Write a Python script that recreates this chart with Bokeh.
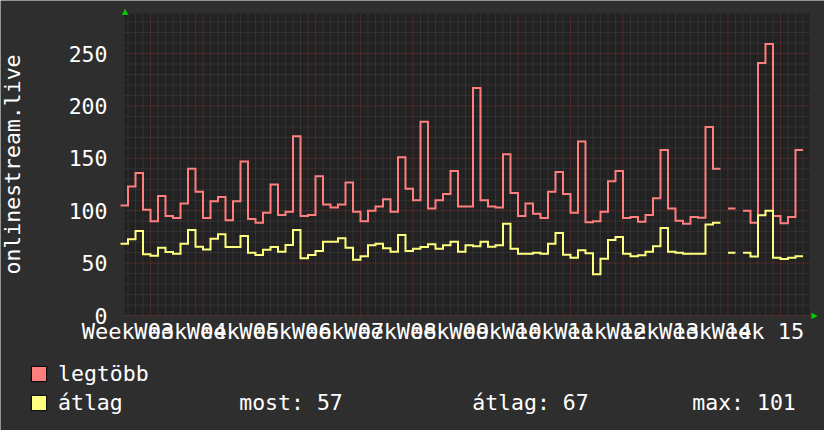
import math
from bokeh.plotting import figure
from bokeh.models import Range1d, Label, Legend, LegendItem
from bokeh.core.properties import value
from bokeh.embed import file_html
from bokeh.resources import INLINE

nan = float("nan")

# ---- data (daily values) ----
legtobb = [105, 123, 136, 101, 90, 114, 95, 93, 107, 140,
           118, 93, 109, 113, 91, 109, 147, 92, 88.5, 98,
           125, 96, 99, 171, 95, 96, 133, 106, 103, 106,
           127, 99, 90, 100, 104, 111, 99, 151, 121, 110,
           185, 102, 110, 116, 138, 104, 104, 217, 110, 104,
           103, 154, 117, 95, 107, 97, 93, 118, 137, 116,
           98, 166, 89, 90, 99, 128, 138, 93, 94, 89.5,
           96, 112, 158, 102, 90.5, 87.6, 94, 93.4, 180, 140,
           nan, 102, nan, 100, 88.6, 241, 259, 95, 88, 94,
           158]
atlag = [68.5, 72.7, 80.6, 58.4, 57, 64.7, 60.6, 59, 68.5, 81.6,
         65.6, 63.1, 73.3, 77.5, 65.4, 65.4, 75.9, 60, 57.7, 62.8,
         65.4, 60.9, 67.3, 81.6, 54.6, 57.7, 61.5, 70.4, 70.4, 73.7,
         64.7, 53.2, 56.5, 67, 68.5, 64.1, 60.9, 76.8, 61.5, 63.7,
         65.4, 67.9, 63.7, 67, 70.4, 60.9, 67, 66, 70.4, 65.7,
         67, 87.6, 63.7, 59, 59, 60, 59, 68.5, 78.7, 58,
         55.2, 62.2, 59.4, 39.3, 54.2, 72, 74.9, 59, 56.5, 57.4,
         60.9, 66, 83.5, 60.9, 60, 59, 59, 59, 86.8, 88.6,
         nan, 60, nan, 60, 56.2, 95.7, 100, 55.2, 53.9, 55,
         56.5]
week_labels = ["Week 03", "Week 04", "Week 05", "Week 06", "Week 07",
               "Week 08", "Week 09", "Week 10", "Week 11", "Week 12",
               "Week 13", "Week 14", "Week 15"]
y_ticks = [0, 50, 100, 150, 200, 250]
y_tick_labels = ["0", "50", "100", "150", "200", "250"]
y_title = "onlinestream.live"
legend_names = ["legtöbb", "átlag"]
stats = ["most: 57", "átlag: 67", "max: 101"]

# ---- style ----
RED = "#ff7f7f"
YEL = "#ffff7f"
BG = "#2e2e2e"
PLOT_BG = "#222222"
MAJOR = "#7a3030"
MINOR = "#434343"
FONT = "DejaVu Sans Mono"
FS = "21.5px"
NB = "\u00a0"
W, H = 824, 430
PL, PR, PT, PB = 124, 15, 13, 115          # plot-area margins in pixels

# plot area in data units (days, visitors)
X0, X1 = -0.467, 90.87
Y0, Y1 = 0, 288.2
pxd = (W - PL - PR) / (X1 - X0)
pyu = (H - PT - PB) / (Y1 - Y0)

n = len(legtobb)
days = list(range(n))          # value i covers day i-1 .. i


def step_path(vals):
    xs, ys = [], []
    for d, v in zip(days, vals):
        xs += [d - 1, d]
        ys += [v, v]
    return xs, ys


p = figure(width=W, height=H, output_backend="svg", toolbar_location=None,
           x_range=Range1d(X0 - PL / pxd, X1 + PR / pxd),
           y_range=Range1d(Y0 - PB / pyu, Y1 + PT / pyu),
           x_axis_location=None, y_axis_location=None, min_border=0)
p.grid.visible = False
p.outline_line_color = None
p.background_fill_color = BG
p.border_fill_color = BG

# plot area
p.quad(left=[X0], right=[X1], bottom=[Y0], top=[Y1],
       fill_color=PLOT_BG, line_color=None)

# grid
week_starts = [7 * k for k in range(len(week_labels))]
major_days = [3 + 7 * k for k in range(13)]
minor_days = [d for d in range(0, 91) if d not in major_days]
minor_vals = [v for v in range(10, 290, 10) if v % 50]
p.segment(x0=minor_days, x1=minor_days, y0=[Y0] * len(minor_days),
          y1=[Y1] * len(minor_days), line_color=MINOR, line_width=1,
          line_dash="1 1")
p.segment(x0=[X0] * len(minor_vals), x1=[X1] * len(minor_vals),
          y0=minor_vals, y1=minor_vals, line_color=MINOR, line_width=1,
          line_dash="1 1")
p.segment(x0=major_days, x1=major_days, y0=[Y0] * len(major_days),
          y1=[Y1] * len(major_days), line_color=MAJOR, line_width=1,
          line_dash="1 1")
p.segment(x0=[X0] * len(y_ticks), x1=[X1] * len(y_ticks),
          y0=y_ticks, y1=y_ticks, line_color=MAJOR, line_width=1,
          line_dash="1 1")

# tick labels
p.text(x=[X0] * len(y_ticks), y=y_ticks, text=y_tick_labels, x_offset=-17,
       text_align="right", text_baseline="middle", text_color="#ffffff",
       text_font=value(FONT), text_font_size=value(FS))
p.text(x=week_starts, y=[Y0] * len(week_starts), text=week_labels, y_offset=3,
       text_align="center", text_baseline="top", text_color="#ffffff",
       text_font=value(FONT), text_font_size=value("22px"))

# series
xr, yr = step_path(legtobb)
xa, ya = step_path(atlag)
p.line(xr, yr, line_color=RED, line_width=2, line_join="miter")
p.line(xa, ya, line_color=YEL, line_width=2, line_join="miter")

# axis title
p.add_layout(Label(x=12, y=H - 164, x_units="screen", y_units="screen",
                   text=y_title, angle=math.pi / 2,
                   text_align="center", text_baseline="middle",
                   text_font=FONT, text_font_size=FS, text_color="#ffffff"))

# axis arrows
p.add_layout(Label(x=PL + 0.5, y=H - PT + 2.5, x_units="screen", y_units="screen",
                   text="▲", text_align="center", text_baseline="middle",
                   text_font="DejaVu Sans", text_font_size="8px",
                   text_color="#00cc00"))
p.add_layout(Label(x=W - PR + 5, y=PB, x_units="screen", y_units="screen",
                   text="▶", text_align="center", text_baseline="middle",
                   text_font="DejaVu Sans", text_font_size="8px",
                   text_color="#00cc00"))

# legend (second row carries the summary values)
row2 = (legend_names[1].ljust(14, NB) + stats[0].ljust(18, NB)
        + stats[1].ljust(17, NB) + stats[2])
sq1 = p.rect(x=[nan], y=[nan], width=1, height=1, fill_color=RED, line_color="black")
sq2 = p.rect(x=[nan], y=[nan], width=1, height=1, fill_color=YEL, line_color="black")
legend = Legend(items=[LegendItem(label=legend_names[0], renderers=[sq1]),
                       LegendItem(label=row2, renderers=[sq2])],
                location=(29, 15), orientation="vertical",
                glyph_width=19, glyph_height=19, label_standoff=10,
                label_height=25, spacing=4, padding=0, margin=0,
                background_fill_alpha=0, border_line_alpha=0,
                label_text_font=FONT, label_text_font_size=FS,
                label_text_color="#ffffff")
p.add_layout(legend)

html = file_html(p, INLINE)
html = html.replace("<body>", '<body style="background-color:%s;">' % BG, 1)
open("out.html", "w").write(html)
